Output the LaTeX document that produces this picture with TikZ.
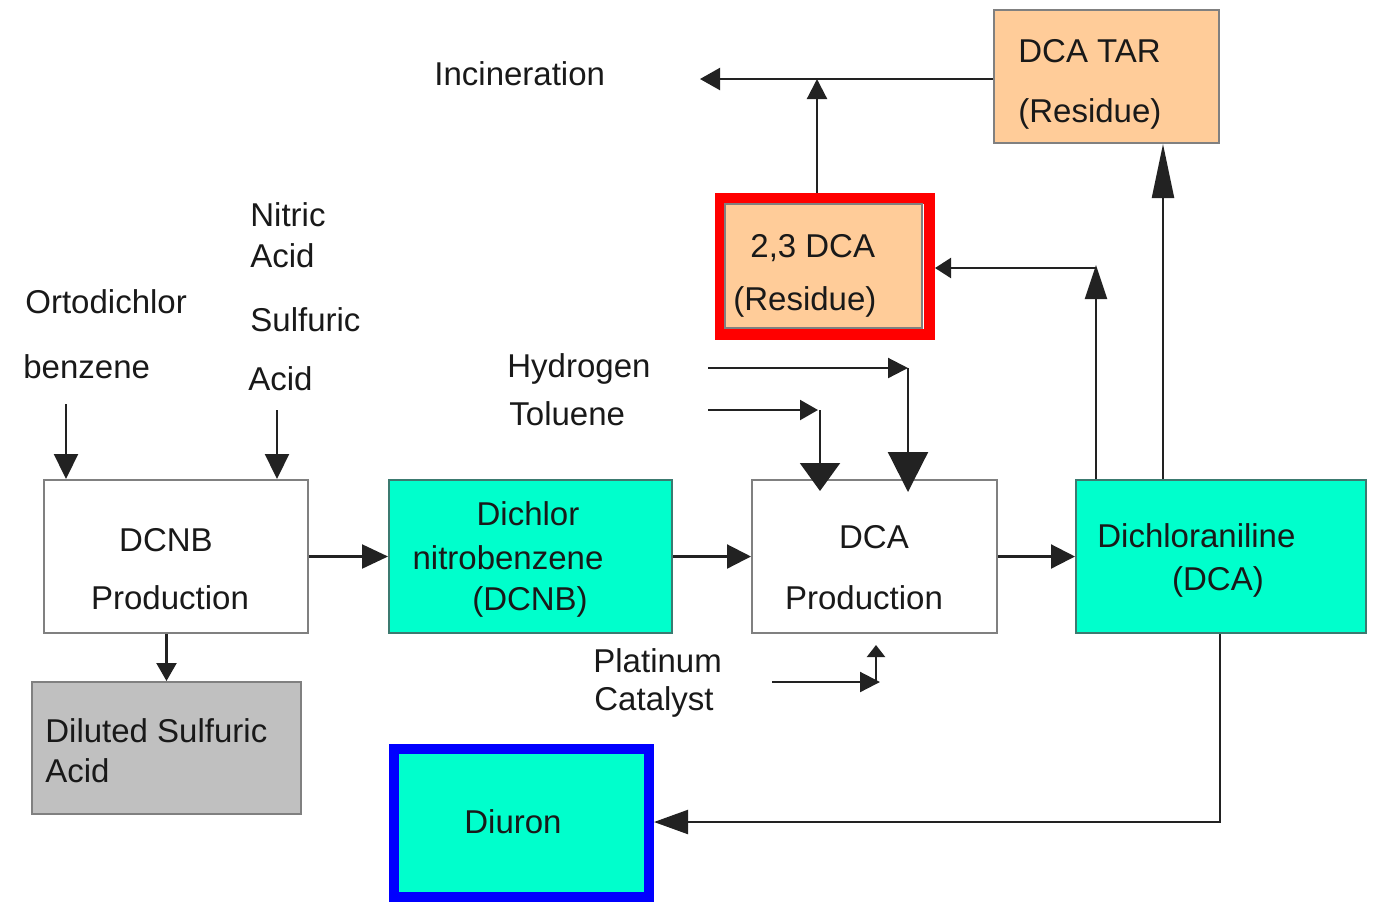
\documentclass[tikz,border=0pt]{standalone}
\usepackage{fontspec}
\setmainfont{Liberation Sans}
\usetikzlibrary{arrows.meta,calc}
\definecolor{teal1}{HTML}{00FFCC}
\definecolor{tealb}{HTML}{3C7A70}
\definecolor{peach}{HTML}{FFCC99}
\definecolor{boxgray}{HTML}{C0C0C0}
\definecolor{bord}{HTML}{808080}
\definecolor{ln}{HTML}{222222}
\tikzset{
  box/.style={draw=bord,line width=1pt,minimum width=#1,inner sep=0pt},
  txt/.style={font=\fontsize{16.5}{20}\selectfont,inner sep=0pt,text=black!90},
  con/.style={draw=ln,line width=1.1pt},
  ar/.style 2 args={con,-{Triangle[length=#1,width=#2]}}
}
\begin{document}
\begin{tikzpicture}[x=0.5pt,y=-0.5pt]
\useasboundingbox (0,0) rectangle (1378,902);
% boxes
\node[box=132pt,minimum height=76.5pt,fill=white] (dcnb) at (176,556.5) {};
\node[box=141.5pt,minimum height=76.5pt,fill=teal1,draw=tealb] (dcnbc) at (530.5,556.5) {};
\node[box=122.5pt,minimum height=76.5pt,fill=white] (dcap) at (874.5,556.5) {};
\node[box=145pt,minimum height=76.5pt,fill=teal1,draw=tealb] (dcan) at (1221,556.5) {};
\node[box=134.5pt,minimum height=66pt,fill=boxgray] (dil) at (166.5,748) {};
\node[draw=blue,line width=5pt,fill=teal1,minimum width=127.5pt,minimum height=74pt,inner sep=0pt] (diuron) at (521.5,823) {};
\node[draw=red,line width=5.5pt,minimum width=104.5pt,minimum height=68pt,inner sep=0pt] (frame) at (825,266.5) {};
\node[box=98.5pt,minimum height=62pt,fill=peach] (dca23) at (823.5,266) {};
\node[box=112.5pt,minimum height=66.5pt,fill=peach] (dcatar) at (1106.5,76.5) {};
% texts
\node[txt,anchor=west] (inc) at (434,74) {Incineration};
\node[txt,anchor=west] (nitric) at (250,215) {Nitric};
\node[txt,anchor=west] (acid1) at (250,256) {Acid};
\node[txt,anchor=west] (sulf) at (250,320) {Sulfuric};
\node[txt,anchor=west] (acid2) at (248,379) {Acid};
\node[txt,anchor=west] (orto) at (25,302) {Ortodichlor};
\node[txt,anchor=west] (benz) at (23,367) {benzene};
\node[txt,anchor=west] (hyd) at (507,369) {Hydrogen};
\node[txt,anchor=west] (tol) at (509,414) {Toluene};
\node[txt,anchor=west] (plat) at (593,661) {Platinum};
\node[txt,anchor=west] (cat) at (594,702) {Catalyst};
\node[txt] (t1) at (166,540) {DCNB};
\node[txt] (t2) at (170,598) {Production};
\node[txt] (t3) at (528,514) {Dichlor};
\node[txt] (t4) at (508,558) {nitrobenzene};
\node[txt] (t5) at (530,602) {(DCNB)};
\node[txt] (t6) at (874,537) {DCA};
\node[txt] (t7) at (864,598) {Production};
\node[txt,anchor=west] (t8) at (1097,536) {Dichloraniline};
\node[txt] (t9) at (1218,582) {(DCA)};
\node[txt,anchor=west] (t10) at (45,731) {Diluted Sulfuric};
\node[txt,anchor=west] (t11) at (45,771) {Acid};
\node[txt] (t12) at (513,822) {Diuron};
\node[txt,anchor=west] (t13) at (750,248) {2,3 DCA};
\node[txt,anchor=west] (t14) at (733,302) {(Residue)};
\node[txt,anchor=west] (t15) at (1018,51) {DCA TAR};
\node[txt,anchor=west] (t16) at (1018,114) {(Residue)};
% free ends
\coordinate (ortoS) at (66,404);
\coordinate (acidS) at (277,410);
\coordinate (h2S) at (708,368);
\coordinate (h2C) at (908,368);
\coordinate (h2E) at (908,492);
\coordinate (tolS) at (708,410);
\coordinate (tolC) at (818,410);
\coordinate (tolV) at (820,410);
\coordinate (tolE) at (820,491);
\coordinate (ptS) at (772,682);
\coordinate (ptC) at (880,682);
\coordinate (ptV) at (876,682);
\coordinate (ptE) at (876,645);
\coordinate (jA) at (1096,265);
\coordinate (jB) at (1096,268);
\coordinate (jC) at (817,79);
\coordinate (incE) at (700,79);
\coordinate (dnC) at (1220,822);
% connectors
\draw[ar={12.5pt}{12pt}] (ortoS) -- (ortoS |- dcnb.north);
\draw[ar={12.5pt}{12pt}] (acidS) -- (acidS |- dcnb.north);
\draw[ar={13pt}{12pt}] (dcnb.east) -- (dcnbc.west);
\draw[ar={9pt}{10pt}] (dil.north |- dcnb.south) -- (dil.north);
\draw[ar={12pt}{12pt}] (dcnbc.east) -- (dcap.west);
\draw[ar={12pt}{12pt}] (dcap.east) -- (dcan.west);
\draw[ar={10pt}{10pt}] (h2S) -- (h2C);
\draw[ar={20pt}{20pt}] (h2C) -- (h2E);
\draw[ar={9pt}{10pt}] (tolS) -- (tolC);
\draw[ar={14pt}{20pt}] (tolV) -- (tolE);
\draw[ar={10pt}{10pt}] (ptS) -- (ptC);
\draw[ar={6pt}{9pt}] (ptV) -- (ptE);
\draw[ar={17pt}{11pt}] (jA |- dcan.north) -- (jA);
\draw[ar={8pt}{10pt}] (jB) -- (frame.east |- jB);
\draw[ar={27pt}{11pt}] (1163,0 |- dcan.north) -- (1163,0 |- dcatar.south);
\draw[ar={10pt}{10pt}] (jC |- frame.north) -- (jC);
\draw[ar={10pt}{11pt}] (dcatar.west |- jC) -- (incE);
\draw[ar={17pt}{12pt}] (dnC |- dcan.south) -- (dnC) -- (diuron.east |- dnC);
\end{tikzpicture}
\end{document}
